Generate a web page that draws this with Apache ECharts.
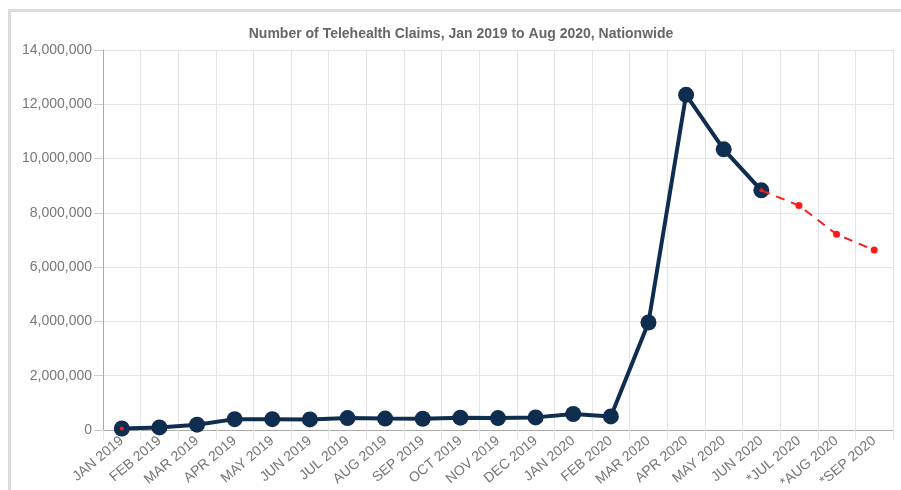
<!DOCTYPE html>
<html>
<head>
<meta charset="utf-8">
<script src="https://cdn.jsdelivr.net/npm/echarts@6/dist/echarts.min.js"></script>
<style>
    body { margin: 0; background: #fff; }
    .frame {
        position: absolute;
        left: 8px;
        top: 9px;
        width: 900px;
        height: 490px;
        border-top: 3px solid #dcdcdc;
        border-left: 3px solid #dcdcdc;
    }
    .charti {
        position: absolute;
        left: 0;
        top: 0;
        width: 901px;
        height: 490px;
    }
</style>
</head>
<body>
<div class="frame"></div>
<div class="charti" id="maini"></div>
<script>
var months = ['JAN 2019', 'FEB 2019', 'MAR 2019', 'APR 2019', 'MAY 2019', 'JUN 2019',
    'JUL 2019', 'AUG 2019', 'SEP 2019', 'OCT 2019', 'NOV 2019', 'DEC 2019',
    'JAN 2020', 'FEB 2020', 'MAR 2020', 'APR 2020', 'MAY 2020', 'JUN 2020',
    '*JUL 2020', '*AUG 2020', '*SEP 2020'];

// actual claims
var claims = [55000, 95000, 195000, 400000, 400000, 390000,
    440000, 420000, 415000, 455000, 440000, 465000,
    590000, 500000, 3960000, 12350000, 10340000, 8830000,
    null, null, null];

// projected (red dashed)
var projected = [55000, null, null, null, null, null,
    null, null, null, null, null, null,
    null, null, null, null, null, 8830000,
    8270000, 7210000, 6630000];

var yTicks = { min: 0, max: 14000000, interval: 2000000 };

var myChart = echarts.init(document.getElementById('maini'));

// the red dots that sit on top of navy markers look smaller
var projData = [];
for (let i = 0; i < projected.length; i++) {
    if (i === 0 || i === 17) {
        projData.push({ value: projected[i], symbolSize: 4 });
    } else {
        projData.push(projected[i]);
    }
}

var option = {
    animation: false,
    title: {
        text: 'Number of Telehealth Claims, Jan 2019 to Aug 2020, Nationwide',
        left: 456,
        textAlign: 'center',
        top: 22,
        textStyle: {
            fontFamily: 'Liberation Sans, Arial',
            fontSize: 14,
            fontWeight: 'bold',
            color: '#666'
        }
    },
    grid: {
        left: 103,
        right: 8,
        top: 50,
        bottom: 60,
        outerBoundsMode: 'none'
    },
    xAxis: {
        type: 'category',
        boundaryGap: true,
        data: months,
        axisLine: { lineStyle: { color: '#aaa', width: 1 } },
        axisTick: { show: true, length: 10, lineStyle: { color: '#e4e4e4' } },
        splitLine: { show: true, lineStyle: { color: '#e4e4e4' } },
        axisLabel: {
            interval: 0,
            rotate: 40,
            margin: 9,
            fontFamily: 'Liberation Sans, Arial',
            fontSize: 14,
            color: '#777'
        }
    },
    yAxis: {
        type: 'value',
        min: yTicks.min,
        max: yTicks.max,
        interval: yTicks.interval,
        axisLine: { show: true, lineStyle: { color: '#aaa', width: 1 } },
        axisTick: { show: true, length: 9, lineStyle: { color: '#ccc' } },
        splitLine: { show: true, lineStyle: { color: '#e4e4e4' } },
        axisLabel: {
            margin: 11,
            fontFamily: 'Liberation Sans, Arial',
            fontSize: 14,
            color: '#777',
            formatter: function (v) {
                return v.toLocaleString('en-US');
            }
        }
    },
    series: [
        {
            name: 'Claims',
            type: 'line',
            data: claims,
            symbol: 'circle',
            symbolSize: 16,
            lineStyle: { color: '#0f2d4f', width: 4 },
            itemStyle: { color: '#0f2d4f' },
            z: 2
        },
        {
            name: 'Projected',
            type: 'line',
            data: projData,
            connectNulls: false,
            symbol: 'circle',
            symbolSize: 7,
            lineStyle: { color: '#ff1a1a', width: 2, type: [9, 7] },
            itemStyle: { color: '#ff1a1a' },
            z: 3
        }
    ]
};

option && myChart.setOption(option);
</script>
</body>
</html>
